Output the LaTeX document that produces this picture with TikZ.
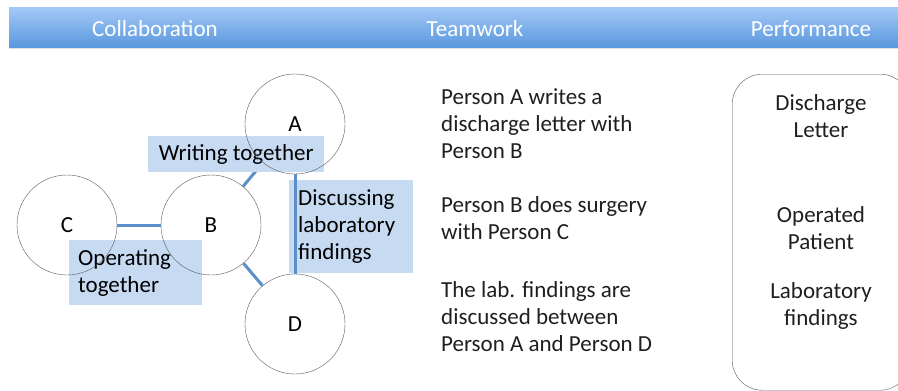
\documentclass[tikz,border=0pt]{standalone}
\usepackage{fontspec}
\setmainfont{Carlito}
\usetikzlibrary{positioning,shadows}

\definecolor{linkblue}{HTML}{5A8FCB}
\definecolor{tagblue}{HTML}{C6DAF2}
\definecolor{bartop}{HTML}{A4C9F7}
\definecolor{barbottom}{HTML}{5A98DE}
\pgfdeclarelayer{back}
\pgfsetlayers{back,main}

\begin{document}
\begin{tikzpicture}[x=1pt,y=-1pt,
                    font=\fontsize{23}{27}\selectfont,
                    person/.style={circle,draw=black!65,minimum size=100pt,inner sep=0pt},
                    link/.style={draw=linkblue,line width=3pt},
                    tag/.style={fill=tagblue,anchor=north west,inner sep=0pt},
                    heading/.style={text=white,inner sep=0pt},
                    story/.style={align=left,anchor=north west,inner sep=0pt,text=black!88},
                    result/.style={align=center,anchor=north,inner sep=0pt,text=black!88}]
  \useasboundingbox (0,0) rectangle (898,391);
  \shade[top color=bartop,bottom color=barbottom,
         drop shadow={shadow xshift=0pt,shadow yshift=-2pt,opacity=0.25}]
        (9,7) rectangle (905,47);
  \node[heading] (collab) at (155,29) {Collaboration};
  \node[heading] (team)   at (475,29) {Teamwork};
  \node[heading] (perf)   at (811,29) {Performance};

  \node[person] (B) at (211,225)                              {B};
  \node[person] (A) [on grid,above right=101pt and 84pt of B] {A};
  \node[person] (D) [on grid,below right=99pt and 84pt of B]  {D};
  \node[person] (C) [on grid,left=144pt of B]                 {C};
  \path[link] (C) edge (B)
              (B) edge (D)
              (A) edge (D);
  \begin{pgfonlayer}{back}
    \path[link] (B) edge (A);
    \node[tag,minimum width=176pt,minimum height=36pt] (writing) at (148,136)
         {Writing together};
    \node[tag,align=left,inner xsep=9pt,text width=106pt,minimum height=93pt]
         (discussing) at (289,180) {Discussing\\laboratory\\findings};
    \node[tag,align=left,inner xsep=9pt,text width=115pt,minimum height=65pt]
         (operating) at (69,240) {Operating\\together};
  \end{pgfonlayer}

  \node[story] (story1) at (441,88)  {Person A writes a\\discharge letter with\\Person B};
  \node[story] (story2) at (441,196) {Person B does surgery\\with Person C};
  \node[story] (story3) at (441,281) {The lab. findings are\\discussed between\\Person A and Person D};

  \node[draw=black!65,rounded corners=30pt,minimum width=178pt,minimum height=316pt,
        anchor=north west,inner sep=0pt] (perfbox) at (732,74) {};
  \node[result] (letter)  at (821,94)  {Discharge\\Letter};
  \node[result] (patient) at (821,206) {Operated\\Patient};
  \node[result] (lab)     at (821,282) {Laboratory\\findings};
\end{tikzpicture}
\end{document}
